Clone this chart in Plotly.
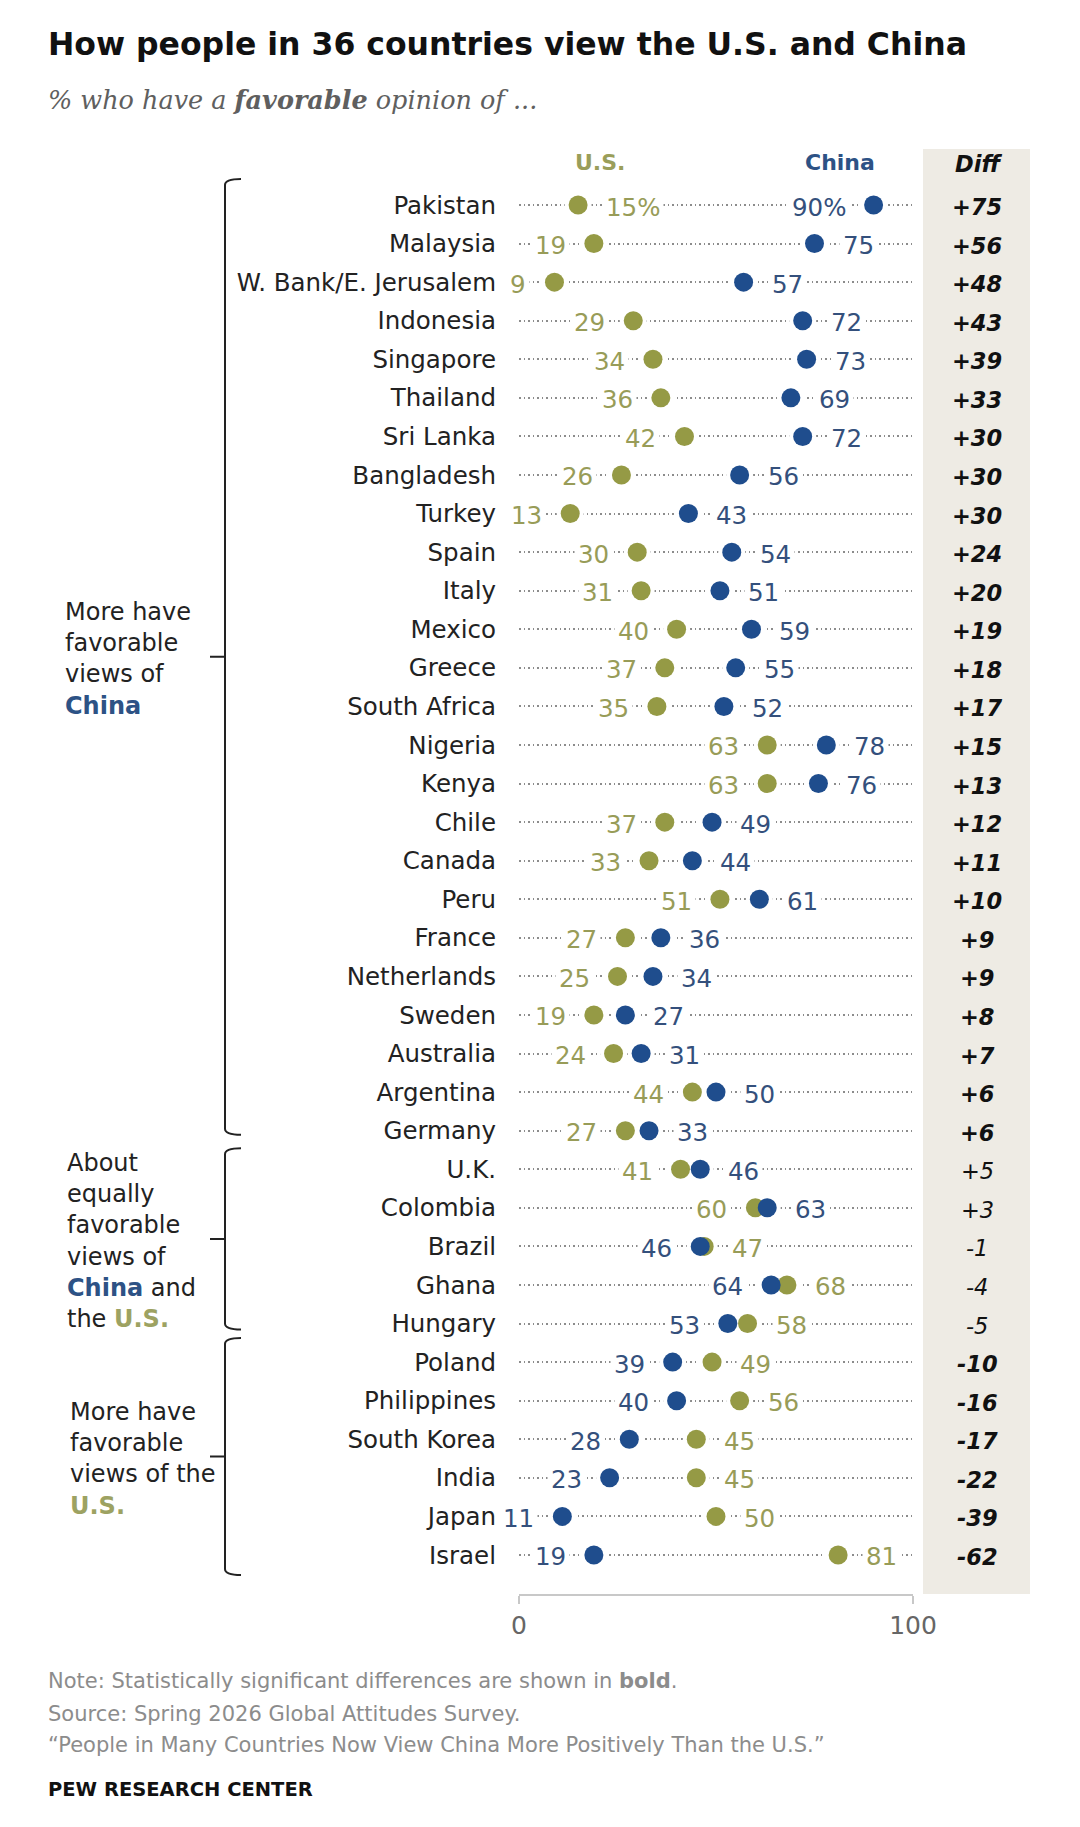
import plotly.graph_objects as go

# ---------------- data ----------------
countries = ["Pakistan", "Malaysia", "W. Bank/E. Jerusalem", "Indonesia", "Singapore",
             "Thailand", "Sri Lanka", "Bangladesh", "Turkey", "Spain", "Italy", "Mexico",
             "Greece", "South Africa", "Nigeria", "Kenya", "Chile", "Canada", "Peru",
             "France", "Netherlands", "Sweden", "Australia", "Argentina", "Germany",
             "U.K.", "Colombia", "Brazil", "Ghana", "Hungary", "Poland", "Philippines",
             "South Korea", "India", "Japan", "Israel"]
us_fav = [15, 19, 9, 29, 34, 36, 42, 26, 13, 30, 31, 40, 37, 35, 63, 63, 37, 33, 51,
          27, 25, 19, 24, 44, 27, 41, 60, 47, 68, 58, 49, 56, 45, 45, 50, 81]
china_fav = [90, 75, 57, 72, 73, 69, 72, 56, 43, 54, 51, 59, 55, 52, 78, 76, 49, 44, 61,
             36, 34, 27, 31, 50, 33, 46, 63, 46, 64, 53, 39, 40, 28, 23, 11, 19]
diff = [75, 56, 48, 43, 39, 33, 30, 30, 30, 24, 20, 19, 18, 17, 15, 13, 12, 11, 10,
        9, 9, 8, 7, 6, 6, 5, 3, -1, -4, -5, -10, -16, -17, -22, -39, -62]
significant = [True] * 25 + [False] * 5 + [True] * 6
inside_label_rows = ["Pakistan"]
x_ticks = [0, 100]

groups = [
    ("More have<br>favorable<br>views of<br><b><span style='color:#2D5285'>China</span></b>",
     "Pakistan", "Germany", -26, 4, 63),
    ("About<br>equally<br>favorable<br>views of<br><b><span style='color:#2D5285'>China</span></b> and"
     "<br>the <b><span style='color:#9DA262'>U.S.</span></b>",
     "U.K.", "Hungary", -21, 6, 65),
    ("More have<br>favorable<br>views of the<br><b><span style='color:#9DA262'>U.S.</span></b>",
     "Poland", "Israel", -24, 20, 68),
]

# ---------------- style ----------------
W, H = 1080, 1827
X0, X100 = 519, 913
ROW0, ROWSTEP = 205, 38.57
SANS = "DejaVu Sans"
SERIF = "DejaVu Serif"
US_DOT, US_TXT = "#959A45", "#989C58"
CN_DOT, CN_TXT = "#1F4D8D", "#34507C"
AXIS_C = "#c8c8c8"

n = len(countries)
top_px = ROW0 - ROWSTEP / 2
bot_px = ROW0 + ROWSTEP * (n - 1) + ROWSTEP / 2


def px(x):
    return x / W


def py(y):
    return 1 - y / H


def row_px(name):
    return ROW0 + ROWSTEP * countries.index(name)


fig = go.Figure()

# white halos so the dotted guide breaks around the dots
fig.add_trace(go.Scatter(x=us_fav + china_fav, y=countries + countries, mode="markers",
                         marker=dict(size=27, color="white"), hoverinfo="skip",
                         cliponaxis=False))
fig.add_trace(go.Scatter(x=us_fav, y=countries, mode="markers", name="U.S.",
                         marker=dict(size=19, color=US_DOT), cliponaxis=False))
fig.add_trace(go.Scatter(x=china_fav, y=countries, mode="markers", name="China",
                         marker=dict(size=19, color=CN_DOT), cliponaxis=False))

ann = []
shapes = []

# value labels
for i, c in enumerate(countries):
    u, ch = us_fav[i], china_fav[i]
    inside = c in inside_label_rows
    suffix = "%" if i == 0 else ""
    us_left = (u < ch) != inside
    for val, left, col in ((u, us_left, US_TXT), (ch, not us_left, CN_TXT)):
        ann.append(dict(x=val, y=c, xref="x", yref="y", text=f"{val}{suffix}",
                        showarrow=False, xanchor="right" if left else "left",
                        xshift=-24 if left else 24, yshift=-2,
                        font=dict(family=SANS, size=24.5, color=col),
                        bgcolor="white", borderpad=3))
    d = diff[i]
    txt = f"{d:+d}"
    txt = f"<b><i>{txt}</i></b>" if significant[i] else f"<i>{txt}</i>"
    ann.append(dict(x=px(977), y=c, xref="paper", yref="y", text=txt, showarrow=False,
                    xanchor="center", yshift=-2,
                    font=dict(family=SANS, size=22.5, color="#111")))

# diff column background
shapes.append(dict(type="rect", xref="paper", yref="paper", x0=px(923), x1=px(1030),
                   y0=py(1594), y1=py(149), fillcolor="#EEEBE4", line=dict(width=0),
                   layer="below"))

# headers
hdr = dict(xref="paper", yref="paper", showarrow=False, xanchor="center", yanchor="middle")
ann.append(dict(x=px(600), y=py(162), text="<b>U.S.</b>",
                font=dict(family=SANS, size=22, color="#9A9E5A"), **hdr))
ann.append(dict(x=px(840), y=py(162), text="<b>China</b>",
                font=dict(family=SANS, size=22, color="#2D5285"), **hdr))
ann.append(dict(x=px(978), y=py(164), text="<b><i>Diff</i></b>",
                font=dict(family=SANS, size=22.5, color="#111"), **hdr))

# group brackets + labels
for label, first, last, pad_top, pad_bot, lx in groups:
    yt = row_px(first) + pad_top
    yb = row_px(last) + pad_bot
    ym = (yt + yb) / 2
    xv, xe, xm = 225, 241, 210
    path = (f"M {px(xe)},{py(yt)} Q {px(xv)},{py(yt)} {px(xv)},{py(yt + 6)} "
            f"L {px(xv)},{py(yb - 6)} Q {px(xv)},{py(yb)} {px(xe)},{py(yb)} "
            f"M {px(xm)},{py(ym)} L {px(xv)},{py(ym)}")
    shapes.append(dict(type="path", xref="paper", yref="paper", path=path,
                       line=dict(color="#222", width=2)))
    ann.append(dict(x=px(lx), y=py(ym + 2), xref="paper", yref="paper", text=label,
                    showarrow=False, xanchor="left", yanchor="middle", align="left",
                    font=dict(family=SANS, size=24, color="#222")))

# title, subtitle, footer
ann.append(dict(x=px(46), y=py(44), xref="paper", yref="paper",
                text="<b>How people in 36 countries view the U.S. and China</b>",
                showarrow=False, xanchor="left", yanchor="middle",
                font=dict(family=SANS, size=31.5, color="#111")))
ann.append(dict(x=px(46), y=py(100), xref="paper", yref="paper",
                text="<i>% who have a <b>favorable</b> opinion of ...</i>",
                showarrow=False, xanchor="left", yanchor="middle",
                font=dict(family=SERIF, size=25.5, color="#5f5f5f")))
foot = [("Note: Statistically significant differences are shown in <b>bold</b>.", 1681),
        ("Source: Spring 2026 Global Attitudes Survey.", 1714),
        ("“People in Many Countries Now View China More Positively Than the U.S.”", 1745)]
for t, y in foot:
    ann.append(dict(x=px(46), y=py(y), xref="paper", yref="paper", text=t, showarrow=False,
                    xanchor="left", yanchor="middle",
                    font=dict(family=SANS, size=21, color="#8c8c8c")))
ann.append(dict(x=px(46), y=py(1789), xref="paper", yref="paper",
                text="<b>PEW RESEARCH CENTER</b>", showarrow=False, xanchor="left",
                yanchor="middle", font=dict(family=SANS, size=19.5, color="#111")))

fig.update_layout(
    width=W, height=H,
    margin=dict(l=0, r=0, t=0, b=0, autoexpand=False),
    paper_bgcolor="white", plot_bgcolor="rgba(0,0,0,0)",
    showlegend=False,
    annotations=ann, shapes=shapes,
    xaxis=dict(domain=[px(X0), px(X100)], range=[0, 100], tickvals=x_ticks,
               ticktext=[str(t) for t in x_ticks], showline=True, linecolor=AXIS_C,
               linewidth=2, ticks="outside", ticklen=8, tickwidth=2, tickcolor=AXIS_C,
               tickfont=dict(family=SANS, size=25, color="#666"), anchor="free",
               position=py(1595), showgrid=False, zeroline=False, fixedrange=True),
    yaxis=dict(domain=[py(bot_px), py(top_px)], type="category", categoryorder="array",
               categoryarray=countries, range=[n - 0.5, -0.5], showgrid=True,
               griddash="1.5px,3px", gridcolor="#8c8c8c", gridwidth=1.6,
               showline=False, ticks="", zeroline=False,
               tickfont=dict(family=SANS, size=24.5, color="#222"),
               ticklabelstandoff=22, fixedrange=True),
)

fig.write_html("out.html")
